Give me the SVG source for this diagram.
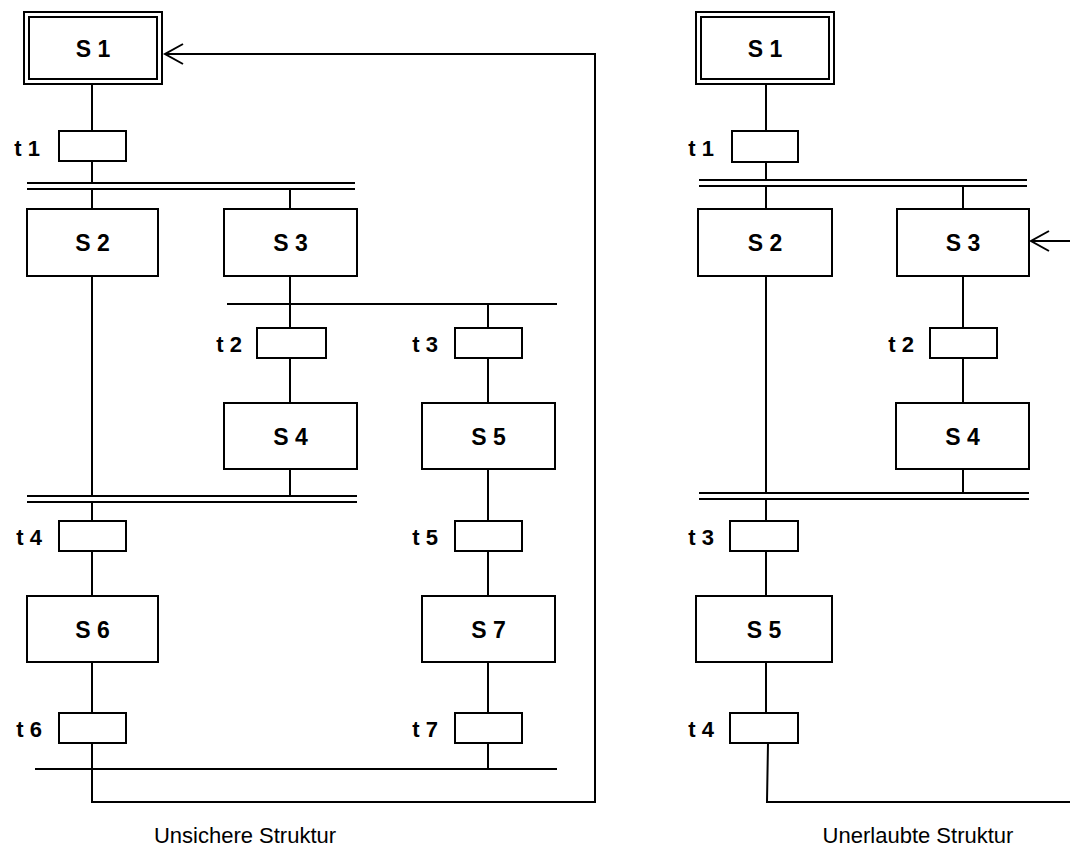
<svg xmlns="http://www.w3.org/2000/svg" width="1070" height="850" viewBox="0 0 1070 850">
<style>
  .box { fill: #fff; stroke: #000; stroke-width: 2; }
  .ln { fill: none; stroke: #000; stroke-width: 2; }
  .sl { font-family: "Liberation Sans", Arial, sans-serif; font-weight: bold; font-size: 23px; text-anchor: middle; fill: #000; }
  .tl { font-family: "Liberation Sans", Arial, sans-serif; font-weight: bold; font-size: 22px; text-anchor: end; fill: #000; }
  .cap { font-family: "Liberation Sans", Arial, sans-serif; font-size: 22px; text-anchor: middle; fill: #000; }
</style>
<rect width="1070" height="850" fill="#fff"/>

<!-- ===== Connectors ===== -->
<g id="connectors" class="ln">
  <!-- left diagram -->
  <line x1="92" y1="84" x2="92" y2="131"/>
  <line x1="92" y1="161" x2="92" y2="183"/>
  <line x1="27" y1="183" x2="355" y2="183"/>
  <line x1="27" y1="189" x2="355" y2="189"/>
  <line x1="92" y1="189" x2="92" y2="209"/>
  <line x1="290" y1="189" x2="290" y2="209"/>
  <line x1="290" y1="276" x2="290" y2="328"/>
  <line x1="227" y1="304" x2="557" y2="304"/>
  <line x1="488" y1="304" x2="488" y2="328"/>
  <line x1="290" y1="358" x2="290" y2="403"/>
  <line x1="488" y1="358" x2="488" y2="403"/>
  <line x1="92" y1="276" x2="92" y2="496"/>
  <line x1="290" y1="469" x2="290" y2="496"/>
  <line x1="27" y1="496" x2="357" y2="496"/>
  <line x1="27" y1="502" x2="357" y2="502"/>
  <line x1="92" y1="502" x2="92" y2="521"/>
  <line x1="92" y1="551" x2="92" y2="596"/>
  <line x1="92" y1="662" x2="92" y2="713"/>
  <line x1="488" y1="469" x2="488" y2="521"/>
  <line x1="488" y1="551" x2="488" y2="596"/>
  <line x1="488" y1="662" x2="488" y2="713"/>
  <line x1="488" y1="743" x2="488" y2="769"/>
  <line x1="35" y1="769" x2="557" y2="769"/>
  <polyline points="92,743 92,802 595,802 595,54 165,54"/>
  <polyline points="183,44 165,54 183,64"/>

  <!-- right diagram -->
  <line x1="766" y1="84" x2="766" y2="131"/>
  <line x1="766" y1="162" x2="766" y2="180"/>
  <line x1="699" y1="180" x2="1027" y2="180"/>
  <line x1="699" y1="186" x2="1027" y2="186"/>
  <line x1="766" y1="186" x2="766" y2="209"/>
  <line x1="963" y1="186" x2="963" y2="209"/>
  <line x1="963" y1="276" x2="963" y2="328"/>
  <line x1="963" y1="358" x2="963" y2="403"/>
  <line x1="963" y1="469" x2="963" y2="493"/>
  <line x1="766" y1="276" x2="766" y2="493"/>
  <line x1="699" y1="493" x2="1029" y2="493"/>
  <line x1="699" y1="499" x2="1029" y2="499"/>
  <line x1="766" y1="499" x2="766" y2="521"/>
  <line x1="766" y1="551" x2="766" y2="596"/>
  <line x1="766" y1="662" x2="766" y2="713"/>
  <polyline points="768,743 767,802 1070,802"/>
  <line x1="1070" y1="241" x2="1031" y2="241"/>
  <polyline points="1049,231 1031,241 1049,251"/>
</g>

<!-- ===== Left diagram nodes ===== -->
<g id="L-S1">
  <rect class="box" x="24" y="12" width="138" height="72"/>
  <rect class="box" x="29" y="17" width="128" height="62"/>
  <text class="sl" x="93" y="56.5">S 1</text>
</g>
<g id="L-t1">
  <rect class="box" x="59" y="131" width="67" height="30"/>
  <text class="tl" x="40" y="156">t 1</text>
</g>
<g id="L-S2">
  <rect class="box" x="27" y="209" width="131" height="67"/>
  <text class="sl" x="92.5" y="251">S 2</text>
</g>
<g id="L-S3">
  <rect class="box" x="224" y="209" width="133" height="67"/>
  <text class="sl" x="290.5" y="251">S 3</text>
</g>
<g id="L-t2">
  <rect class="box" x="257" y="328" width="69" height="30"/>
  <text class="tl" x="242" y="352">t 2</text>
</g>
<g id="L-t3">
  <rect class="box" x="455" y="328" width="67" height="30"/>
  <text class="tl" x="438" y="352">t 3</text>
</g>
<g id="L-S4">
  <rect class="box" x="224" y="403" width="133" height="66"/>
  <text class="sl" x="290.5" y="444.5">S 4</text>
</g>
<g id="L-S5">
  <rect class="box" x="422" y="403" width="133" height="66"/>
  <text class="sl" x="488.5" y="444.5">S 5</text>
</g>
<g id="L-t4">
  <rect class="box" x="59" y="521" width="67" height="30"/>
  <text class="tl" x="42" y="545">t 4</text>
</g>
<g id="L-t5">
  <rect class="box" x="455" y="521" width="67" height="30"/>
  <text class="tl" x="438" y="545">t 5</text>
</g>
<g id="L-S6">
  <rect class="box" x="27" y="596" width="131" height="66"/>
  <text class="sl" x="92.5" y="637.5">S 6</text>
</g>
<g id="L-S7">
  <rect class="box" x="422" y="596" width="133" height="66"/>
  <text class="sl" x="488.5" y="637.5">S 7</text>
</g>
<g id="L-t6">
  <rect class="box" x="59" y="713" width="67" height="30"/>
  <text class="tl" x="42" y="737">t 6</text>
</g>
<g id="L-t7">
  <rect class="box" x="455" y="713" width="67" height="30"/>
  <text class="tl" x="438" y="737">t 7</text>
</g>

<!-- ===== Right diagram nodes ===== -->
<g id="R-S1">
  <rect class="box" x="696" y="12" width="138" height="72"/>
  <rect class="box" x="701" y="17" width="128" height="62"/>
  <text class="sl" x="765" y="56.5">S 1</text>
</g>
<g id="R-t1">
  <rect class="box" x="732" y="131" width="66" height="31"/>
  <text class="tl" x="714" y="156">t 1</text>
</g>
<g id="R-S2">
  <rect class="box" x="698" y="209" width="134" height="67"/>
  <text class="sl" x="765" y="251">S 2</text>
</g>
<g id="R-S3">
  <rect class="box" x="897" y="209" width="132" height="67"/>
  <text class="sl" x="963" y="251">S 3</text>
</g>
<g id="R-t2">
  <rect class="box" x="930" y="328" width="67" height="30"/>
  <text class="tl" x="914" y="352">t 2</text>
</g>
<g id="R-S4">
  <rect class="box" x="896" y="403" width="133" height="66"/>
  <text class="sl" x="962.5" y="444.5">S 4</text>
</g>
<g id="R-t3">
  <rect class="box" x="730" y="521" width="68" height="30"/>
  <text class="tl" x="714" y="545">t 3</text>
</g>
<g id="R-S5">
  <rect class="box" x="696" y="596" width="136" height="66"/>
  <text class="sl" x="764" y="637.5">S 5</text>
</g>
<g id="R-t4">
  <rect class="box" x="730" y="713" width="68" height="30"/>
  <text class="tl" x="714" y="737">t 4</text>
</g>

<!-- ===== Captions ===== -->
<text class="cap" x="245" y="843">Unsichere Struktur</text>
<text class="cap" x="918" y="843">Unerlaubte Struktur</text>
</svg>
